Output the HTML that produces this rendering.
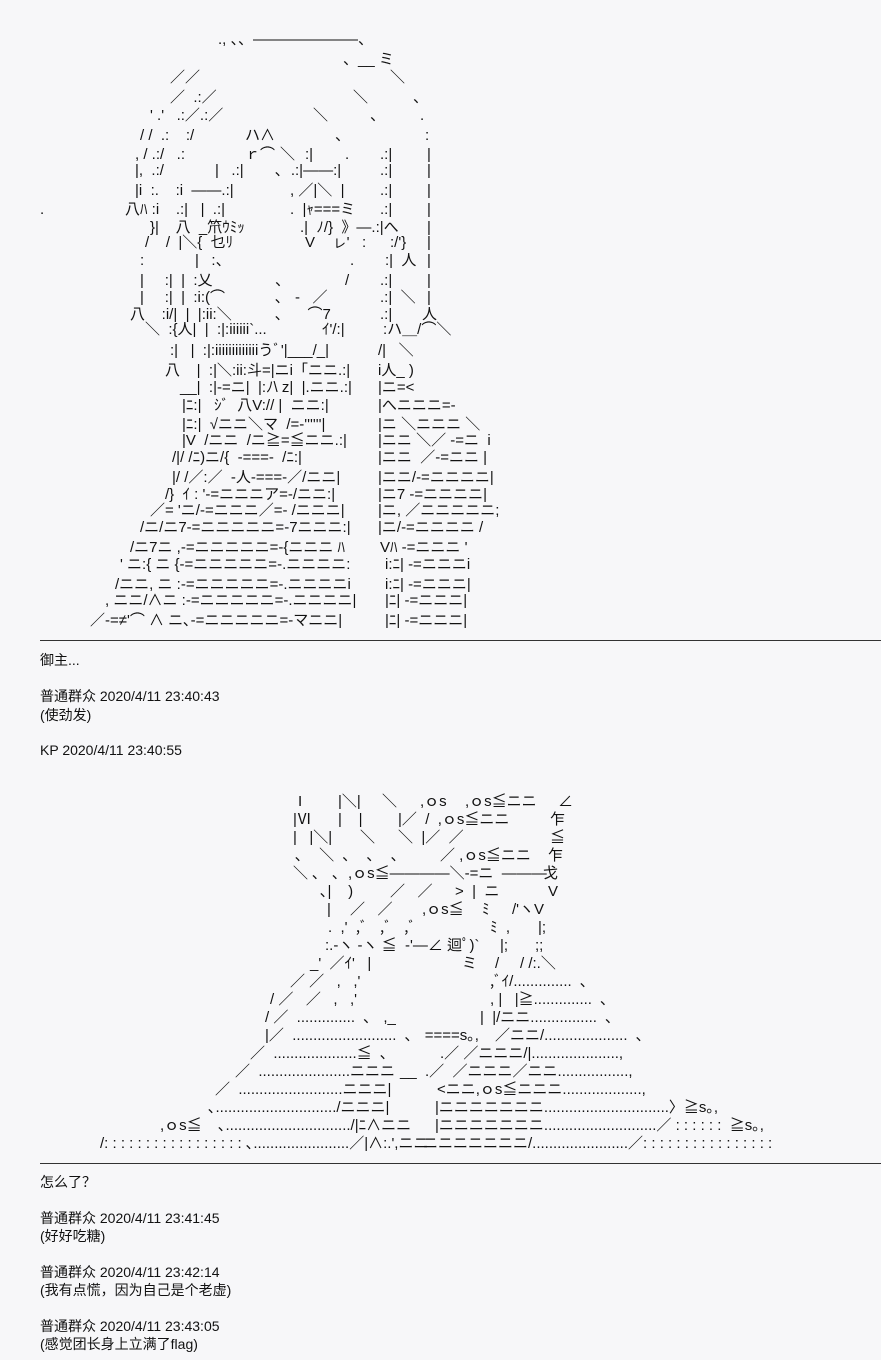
<!DOCTYPE html>
<html><head><meta charset="utf-8"><style>
html,body{margin:0;padding:0;background:#f7f7f9;}
body{width:881px;height:1360px;position:relative;overflow:hidden;color:#111;}
i{position:absolute;font-style:normal;white-space:pre;font-family:"Liberation Sans","Noto Sans CJK JP",sans-serif;font-size:15px;line-height:18px;}
.t{position:absolute;left:40px;white-space:pre;font-family:"Liberation Sans","Noto Sans CJK SC",sans-serif;font-size:14px;line-height:18px;}
.sep{position:absolute;left:40px;width:841px;border-top:1px solid #333;}
</style></head><body>
<i style="left:218px;top:31px">., 、、―――――――、</i>
<i style="left:343px;top:51px">、__ ミ</i>
<i style="left:170px;top:69px">／／</i><i style="left:390px;top:69px">＼</i>
<i style="left:170px;top:89px">／  .:／</i><i style="left:353px;top:89px">＼</i><i style="left:413px;top:89px">、</i>
<i style="left:150px;top:107px">' .'   .:／.:／</i><i style="left:313px;top:107px">＼</i><i style="left:370px;top:107px">、</i><i style="left:420px;top:107px">.</i>
<i style="left:140px;top:127px">/ /  .:    :/</i><i style="left:245px;top:127px">ハ∧</i><i style="left:335px;top:127px">、</i><i style="left:425px;top:127px">:</i>
<i style="left:135px;top:146px">, / .:/   .:</i><i style="left:245px;top:146px">ｒ⌒</i><i style="left:280px;top:146px">＼</i><i style="left:305px;top:146px">:|</i><i style="left:345px;top:146px">.</i><i style="left:380px;top:146px">.:|</i><i style="left:427px;top:146px">|</i>
<i style="left:135px;top:162px">|,  .:/</i><i style="left:215px;top:162px">|   .:|</i><i style="left:275px;top:162px">､  .:|――:|</i><i style="left:380px;top:162px">.:|</i><i style="left:427px;top:162px">|</i>
<i style="left:135px;top:182px">|i  :.    :i  ――.:|</i><i style="left:290px;top:182px">, ／|＼  |</i><i style="left:380px;top:182px">.:|</i><i style="left:427px;top:182px">|</i>
<i style="left:40px;top:201px">.</i><i style="left:125px;top:201px">八ﾊ :i    .:|   |  .:|</i><i style="left:290px;top:201px">.  |ｬ===ミ</i><i style="left:380px;top:201px">.:|</i><i style="left:427px;top:201px">|</i>
<i style="left:150px;top:219px">}|    八  _笊ｳﾐｯ</i><i style="left:300px;top:219px">.|  ﾉ/}  》―.:|へ</i><i style="left:427px;top:219px">|</i>
<i style="left:145px;top:234px">/    /  |＼{  乜ﾘ</i><i style="left:305px;top:234px">V    ㇾ'   :</i><i style="left:390px;top:234px">:/'}</i><i style="left:427px;top:234px">|</i>
<i style="left:140px;top:252px">:</i><i style="left:195px;top:252px">|   :、</i><i style="left:350px;top:252px">.</i><i style="left:385px;top:252px">:|  人</i><i style="left:427px;top:252px">|</i>
<i style="left:140px;top:272px">|     :|  |  :乂</i><i style="left:275px;top:272px">、</i><i style="left:345px;top:272px">/</i><i style="left:380px;top:272px">.:|</i><i style="left:427px;top:272px">|</i>
<i style="left:140px;top:289px">|     :|  |  :i:(⌒</i><i style="left:275px;top:289px">､   -   ／</i><i style="left:380px;top:289px">.:|  ＼</i><i style="left:427px;top:289px">|</i>
<i style="left:130px;top:306px">八    :i/|  |  |:ii:＼</i><i style="left:275px;top:306px">､      ⌒7</i><i style="left:380px;top:306px">.:|</i><i style="left:422px;top:306px">人</i>
<i style="left:145px;top:321px">＼  :{人|  |  :|:iiiiii`...</i><i style="left:322px;top:321px">ｲ'/:|</i><i style="left:383px;top:321px">:ハ＿/⌒＼</i>
<i style="left:170px;top:342px">:|   |  :|:iiiiiiiiiiiiiうﾞ'|___/_|</i><i style="left:378px;top:342px">/|   ＼</i>
<i style="left:165px;top:362px">八    |  :|＼:ii:斗=|ニi「ニニ.:|</i><i style="left:378px;top:362px">i人_ )</i>
<i style="left:180px;top:379px">__|  :|-=ニ|  |:ﾉ\ z|  |.ニニ.:|</i><i style="left:378px;top:379px">|ニ=&lt;</i>
<i style="left:182px;top:397px">|ﾆ:|   ｼﾞ  八V:// |  ニニ:|</i><i style="left:378px;top:397px">|へニニニ=-</i>
<i style="left:182px;top:416px">|ﾆ:|  √ニニ＼マ  /=-''''''|</i><i style="left:378px;top:416px">|ニ ＼ニニニ ＼</i>
<i style="left:182px;top:432px">|V  /ニニ  /ニ≧=≦ニニ.:|</i><i style="left:378px;top:432px">|ニニ ＼／ -=ニ  i</i>
<i style="left:172px;top:449px">/|/ /ﾆ)ニ/{  -===-  /ﾆ:|</i><i style="left:378px;top:449px">|ニニ  ／-=ニニ |</i>
<i style="left:172px;top:469px">|/ /／:／  -人-===-／/ニニ|</i><i style="left:378px;top:469px">|ニニ/-=ニニニニ|</i>
<i style="left:165px;top:486px">/}  ｲ : '-=ニニニア=-/ニニ:|</i><i style="left:378px;top:486px">|ニ7 -=ニニニニ|</i>
<i style="left:150px;top:502px">／= 'ニ/-=ニニニ／=- /ニニニ|</i><i style="left:378px;top:502px">|ニ, ／ニニニニニ;</i>
<i style="left:140px;top:519px">/ニ/ニ7-=ニニニニニ=-7ニニニ:|</i><i style="left:378px;top:519px">|ニ/-=ニニニニ /</i>
<i style="left:130px;top:539px">/ニ7ニ ,-=ニニニニニ=-{ニニニ ﾊ</i><i style="left:380px;top:539px">Vﾊ -=ニニニ '</i>
<i style="left:120px;top:556px">' ニ:{ ニ {-=ニニニニニ=-.ニニニニ:</i><i style="left:385px;top:556px">i:ﾆ| -=ニニニi</i>
<i style="left:115px;top:576px">/ニニ, ニ :-=ニニニニニ=-.ニニニニi</i><i style="left:385px;top:576px">i:ﾆ| -=ニニニ|</i>
<i style="left:105px;top:592px">, ニニ/∧ニ :-=ニニニニニ=-.ニニニニ|</i><i style="left:385px;top:592px">|ﾆ| -=ニニニ|</i>
<i style="left:90px;top:612px">／-=≠'⌒ ∧ ニ､-=ニニニニニ=-マニニ|</i><i style="left:385px;top:612px">|ﾆ| -=ニニニ|</i>
<div class="sep" style="top:640px"></div>
<div class="t" style="top:651px">御主...</div>
<div class="t" style="top:687px">普通群众 2020/4/11 23:40:43</div>
<div class="t" style="top:706px">(使劲发)</div>
<div class="t" style="top:741px">KP 2020/4/11 23:40:55</div>

<i style="left:298px;top:793px">I</i><i style="left:338px;top:793px">|＼|</i><i style="left:382px;top:793px">＼</i><i style="left:420px;top:793px">,ｏs</i><i style="left:465px;top:793px">,ｏs≦ニニ</i><i style="left:558px;top:793px">∠</i>
<i style="left:293px;top:811px">|Ⅵ</i><i style="left:338px;top:811px">|    |</i><i style="left:398px;top:811px">|／  /  ,ｏs≦ニニ</i><i style="left:550px;top:811px">乍</i>
<i style="left:293px;top:829px">|   |＼|</i><i style="left:360px;top:829px">＼</i><i style="left:398px;top:829px">＼  |／  ／</i><i style="left:550px;top:829px">≦</i>
<i style="left:295px;top:847px">､    ＼  ､    ､    ､</i><i style="left:440px;top:847px">／ ,ｏs≦ニニ</i><i style="left:548px;top:847px">乍</i>
<i style="left:293px;top:865px">＼ ､   ､  ,ｏs≦――――＼-=ニ  ―――</i><i style="left:543px;top:865px">戈</i>
<i style="left:320px;top:883px">､|    )</i><i style="left:390px;top:883px">／   ／</i><i style="left:455px;top:883px">&gt;  |  ニ</i><i style="left:548px;top:883px">V</i>
<i style="left:327px;top:901px">|</i><i style="left:350px;top:901px">／   ／</i><i style="left:422px;top:901px">,ｏs≦</i><i style="left:482px;top:901px">ﾐ</i><i style="left:512px;top:901px">/'ヽV</i>
<i style="left:328px;top:919px">.  ,'  ,ﾞ   ,ﾞ   ,ﾞ</i><i style="left:490px;top:919px">ﾐ  ,</i><i style="left:538px;top:919px">|;</i>
<i style="left:325px;top:937px">:.-ヽ -ヽ ≦  -'―∠ 迴ﾟ)`</i><i style="left:500px;top:937px">|;</i><i style="left:535px;top:937px">;;</i>
<i style="left:310px;top:955px">_'  ／ｲ'   |</i><i style="left:462px;top:955px">ミ</i><i style="left:495px;top:955px">/</i><i style="left:520px;top:955px">/ /:.＼</i>
<i style="left:290px;top:973px">／ ／   ,   ,'</i><i style="left:490px;top:973px">,ﾞｲ/..............  ､</i>
<i style="left:270px;top:991px">/ ／   ／   ,   ,'</i><i style="left:490px;top:991px">, |   |≧..............  ､</i>
<i style="left:265px;top:1009px">/ ／  ..............  ､   ,_</i><i style="left:480px;top:1009px">|  |/ニニ................  ､</i>
<i style="left:265px;top:1027px">|／  .........................  ､   ====s｡,</i><i style="left:495px;top:1027px">／ニニ/....................  ､</i>
<i style="left:250px;top:1045px">／  ....................≦  ､</i><i style="left:440px;top:1045px">.／ ／ニニニ/|.....................,</i>
<i style="left:235px;top:1063px">／  ......................ニニニ</i><i style="left:400px;top:1063px">__  .／  ／ニニニ／ニニ.................,</i>
<i style="left:215px;top:1081px">／  .........................ニニニ|</i><i style="left:437px;top:1081px">&lt;ニニ,ｏs≦ニニニ...................,</i>
<i style="left:208px;top:1099px">､............................./ニニニ|</i><i style="left:435px;top:1099px">|ニニニニニニニ..............................〉≧s｡,</i>
<i style="left:160px;top:1117px">,ｏs≦</i><i style="left:218px;top:1117px">､............................../|ﾆ∧ニニ</i><i style="left:435px;top:1117px">|ニニニニニニニ...........................／ : : : : : :  ≧s｡,</i>
<i style="left:100px;top:1135px">/: : : : : : : : : : : : : : : : : ､.......................／|∧:.',ニニ</i><i style="left:423px;top:1135px">ニニニニニニニ/.......................／: : : : : : : : : : : : : : : :</i>
<div class="sep" style="top:1163px"></div>
<div class="t" style="top:1173px">怎么了？</div>
<div class="t" style="top:1209px">普通群众 2020/4/11 23:41:45</div>
<div class="t" style="top:1227px">(好好吃糖)</div>
<div class="t" style="top:1263px">普通群众 2020/4/11 23:42:14</div>
<div class="t" style="top:1281px">(我有点慌，因为自己是个老虚)</div>
<div class="t" style="top:1317px">普通群众 2020/4/11 23:43:05</div>
<div class="t" style="top:1335px">(感觉团长身上立满了flag)</div>
</body></html>
